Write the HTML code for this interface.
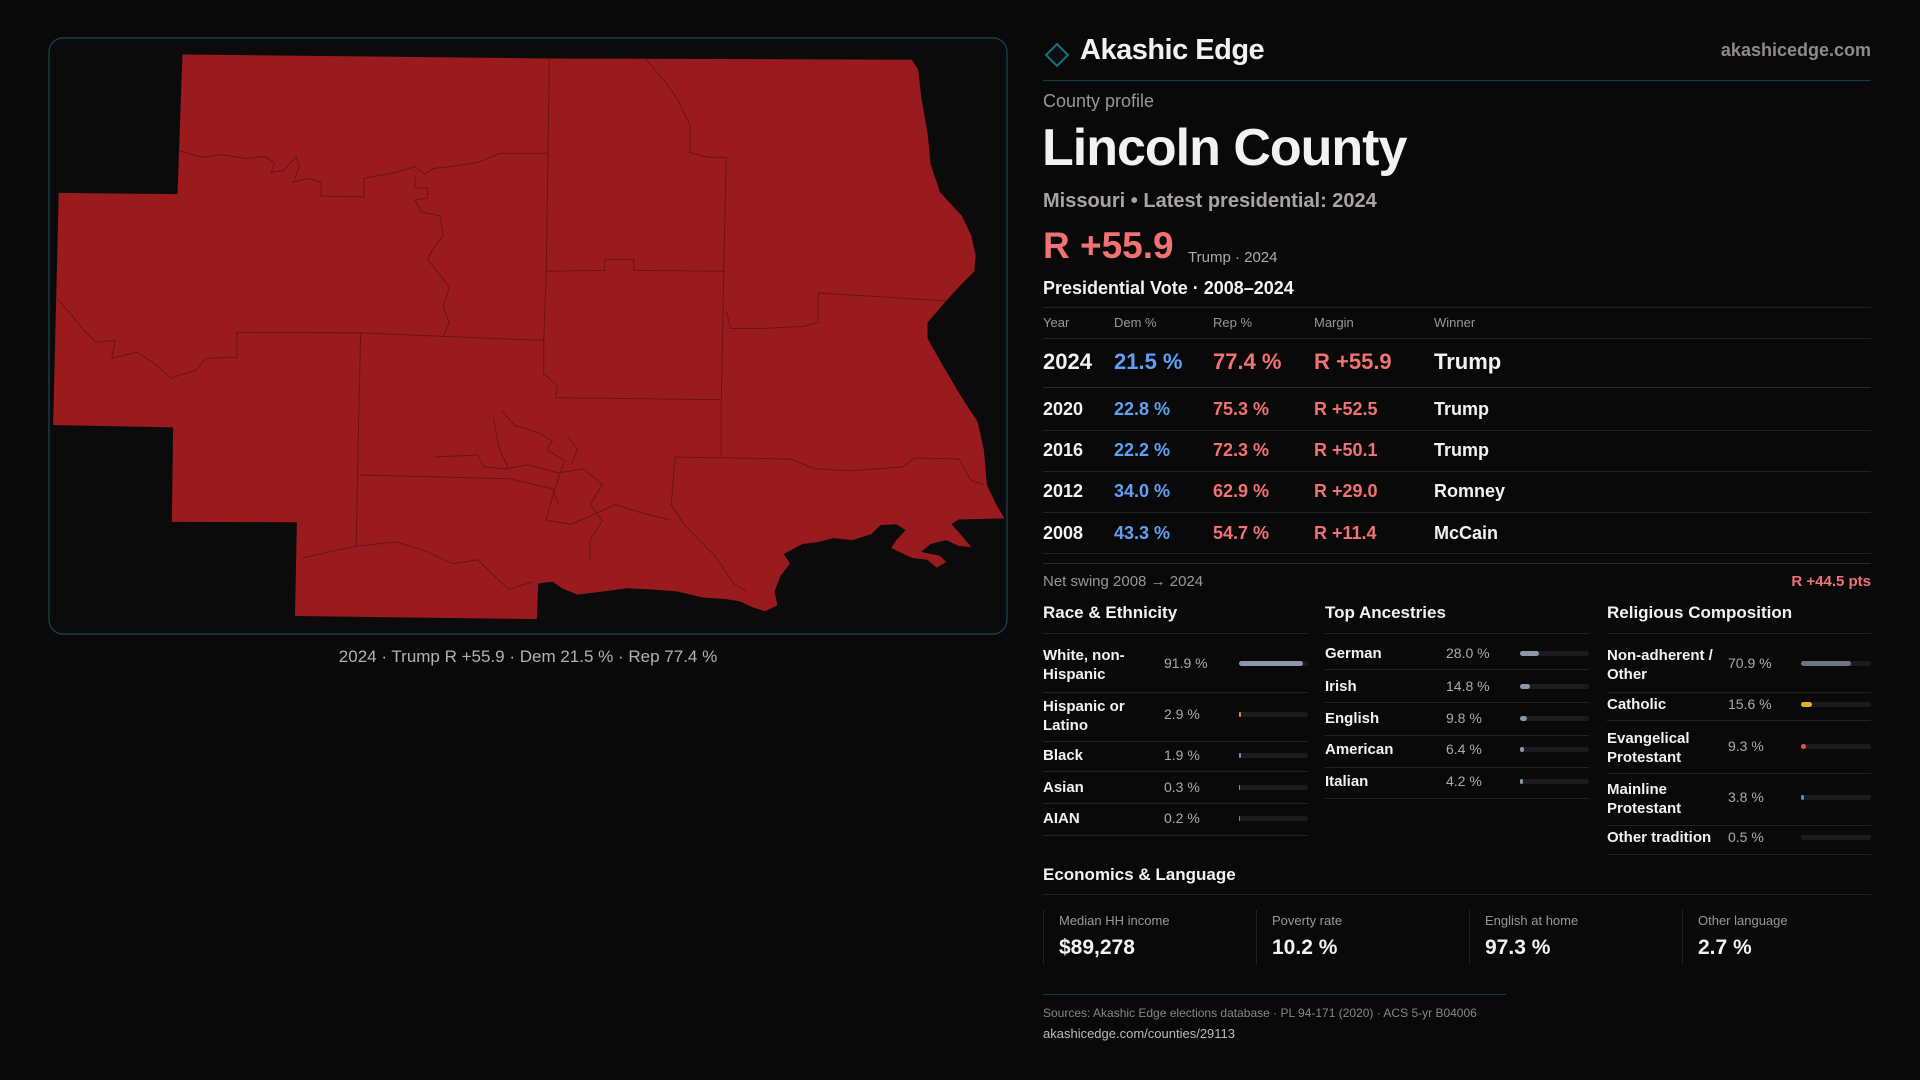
<!DOCTYPE html>
<html><head><meta charset="utf-8"><style>
*{margin:0;padding:0;box-sizing:border-box}
body{width:1920px;height:1080px;background:#0a0909;position:relative;overflow:hidden;font-family:"Liberation Sans",sans-serif;color:#f2f2f2}
.a{position:absolute;white-space:nowrap;line-height:1}
.g{color:#9b9696}
.r{color:#f07272}
.b{color:#5fa0f5}
.ln{position:absolute;height:1px;background:#222}
.bar{position:absolute;height:5px;border-radius:3px;background:#1c1c1e}
.bar i{position:absolute;left:0;top:0;height:5px;border-radius:3px}
</style></head><body>
<svg style="position:absolute;left:0;top:0" width="1920" height="1080" viewBox="0 0 1920 1080">
<rect x="49" y="38" width="958" height="596" rx="14" fill="#0b0b0c" stroke="#1d4650" stroke-width="1.2"/>
<g transform="translate(40,30) scale(0.625,0.3954)">
<polygon fill="#991b1e" points="228,62 815,72 1395,75 1405,100 1410,170 1420,260 1425,340 1440,410 1475,470 1490,520 1497,570 1495,610 1470,650 1450,685 1420,740 1420,780 1445,850 1475,930 1500,990 1510,1060 1515,1150 1530,1200 1543,1235 1470,1238 1458,1250 1470,1270 1490,1308 1470,1305 1450,1290 1425,1300 1410,1320 1440,1330 1450,1345 1435,1360 1420,1340 1395,1335 1362,1310 1370,1290 1385,1265 1370,1250 1345,1252 1330,1275 1300,1290 1270,1285 1245,1295 1220,1300 1190,1325 1200,1350 1185,1380 1175,1420 1180,1455 1160,1470 1140,1460 1120,1445 1100,1440 1060,1435 1020,1420 980,1415 940,1412 900,1420 860,1428 835,1412 820,1395 797,1400 795,1490 408,1482 411,1245 211,1244 213,1005 21,999 30,412 220,415"/>
<g fill="none" stroke="#6a1216" stroke-width="1" vector-effect="non-scaling-stroke">
<path vector-effect="non-scaling-stroke" d="M815,72 L810,610 L806,785 L806,870"/>
<path vector-effect="non-scaling-stroke" d="M222,305 L260,322 290,315 330,325 360,320 375,335 370,360 390,355 410,320 415,345 405,385 430,375 450,385 450,420 518,422 518,375 570,360 600,345 615,365 630,350 660,345 700,335 735,312 812,312"/>
<path vector-effect="non-scaling-stroke" d="M600,368 L600,400 620,400 620,425 600,430 610,460 640,470 645,520 630,550 620,580 640,620 655,650 645,700 655,740 645,775 806,785"/>
<path vector-effect="non-scaling-stroke" d="M968,72 L1000,130 1020,175 1040,240 1040,310 1070,322 1098,322 L1094,610 L1090,935 L1090,1080"/>
<path vector-effect="non-scaling-stroke" d="M810,610 L903,608 903,580 950,580 950,608 1094,610"/>
<path vector-effect="non-scaling-stroke" d="M1098,710 L1105,755 1150,755 1220,750 1245,740 1245,665 1450,685"/>
<path vector-effect="non-scaling-stroke" d="M28,680 L50,720 70,760 90,790 120,785 115,830 155,815 180,840 210,880 250,860 265,830 315,828 315,765 513,766 645,775"/>
<path vector-effect="non-scaling-stroke" d="M513,766 L508,1125 506,1305 L420,1335"/>
<path vector-effect="non-scaling-stroke" d="M806,870 L828,900 825,930 L1090,935"/>
<path vector-effect="non-scaling-stroke" d="M508,1125 L750,1135 820,1160 830,1200"/>
<path vector-effect="non-scaling-stroke" d="M1016,1080 L1010,1200 1030,1250 1080,1330 1110,1400 1130,1420"/>
<path vector-effect="non-scaling-stroke" d="M1016,1080 L1200,1085 1240,1110 1300,1115 1380,1105 1400,1082 1470,1085 1490,1140 1510,1150"/>
<path vector-effect="non-scaling-stroke" d="M506,1305 L570,1295 620,1320 660,1350 700,1340 720,1370 750,1415 790,1395"/>
<path vector-effect="non-scaling-stroke" d="M740,965 L760,1000 800,1020 820,1040 810,1060 840,1090 830,1130 820,1180 810,1240 850,1250 880,1230 920,1200 960,1220 1010,1240"/>
<path vector-effect="non-scaling-stroke" d="M630,1080 L700,1075 710,1105 745,1110 780,1100 830,1120 870,1110 900,1150 880,1200 900,1240 880,1290 880,1340"/>
<path vector-effect="non-scaling-stroke" d="M725,980 L735,1060 750,1110 M845,1030 L860,1060 850,1100"/>
</g></g>
<path d="M1057,44 L1068,55 L1057,66 L1046,55 Z" fill="#0c1214" stroke="#1f6d75" stroke-width="2"/>
</svg>
<div class="a" style="left:0;width:1056px;top:648px;text-align:center;font-size:17px;color:#b5b0b0">2024 · Trump R +55.9 · Dem 21.5 % · Rep 77.4 %</div>

<div class="a" style="left:1080px;top:36px;font-size:29px;font-weight:bold;letter-spacing:-0.5px">Akashic Edge</div>
<div class="a g" style="right:49px;top:41px;font-size:18px;font-weight:bold;color:#8f8a8a">akashicedge.com</div>
<div class="ln" style="left:1043px;width:828px;top:80px;background:#173b42"></div>
<div class="a g" style="left:1043px;top:92px;font-size:18px">County profile</div>
<div class="a" style="left:1042px;top:122px;font-size:52px;font-weight:bold;letter-spacing:-1px">Lincoln County</div>
<div class="a" style="left:1043px;top:191px;font-size:20px;font-weight:bold;color:#a9a4a4">Missouri • Latest presidential: 2024</div>
<div class="a r" style="left:1043px;top:227px;font-size:37px;font-weight:bold">R +55.9</div>
<div class="a" style="left:1188px;top:250px;font-size:15px;color:#aaa">Trump · 2024</div>
<div class="a" style="left:1043px;top:279px;font-size:18px;font-weight:bold">Presidential Vote · 2008–2024</div>
<div class="ln" style="left:1043px;width:828px;top:307px"></div>
<div class="a g" style="left:1043px;top:316px;font-size:13px">Year</div>
<div class="a g" style="left:1114px;top:316px;font-size:13px">Dem %</div>
<div class="a g" style="left:1213px;top:316px;font-size:13px">Rep %</div>
<div class="a g" style="left:1314px;top:316px;font-size:13px">Margin</div>
<div class="a g" style="left:1434px;top:316px;font-size:13px">Winner</div>
<div class="ln" style="left:1043px;width:828px;top:338px"></div>
<div class="a" style="left:1043px;top:351px;font-size:22px;font-weight:bold">2024</div>
<div class="a b" style="left:1114px;top:351px;font-size:22px;font-weight:bold">21.5 %</div>
<div class="a r" style="left:1213px;top:351px;font-size:22px;font-weight:bold">77.4 %</div>
<div class="a r" style="left:1314px;top:351px;font-size:22px;font-weight:bold">R +55.9</div>
<div class="a" style="left:1434px;top:351px;font-size:22px;font-weight:bold">Trump</div>
<div class="ln" style="left:1043px;width:828px;top:387px;background:#2a2a2a"></div>
<div class="a" style="left:1043px;top:400px;font-size:18px;font-weight:bold">2020</div>
<div class="a b" style="left:1114px;top:400px;font-size:18px;font-weight:bold">22.8 %</div>
<div class="a r" style="left:1213px;top:400px;font-size:18px;font-weight:bold">75.3 %</div>
<div class="a r" style="left:1314px;top:400px;font-size:18px;font-weight:bold">R +52.5</div>
<div class="a" style="left:1434px;top:400px;font-size:18px;font-weight:bold">Trump</div>
<div class="ln" style="left:1043px;width:828px;top:430px"></div>
<div class="a" style="left:1043px;top:441px;font-size:18px;font-weight:bold">2016</div>
<div class="a b" style="left:1114px;top:441px;font-size:18px;font-weight:bold">22.2 %</div>
<div class="a r" style="left:1213px;top:441px;font-size:18px;font-weight:bold">72.3 %</div>
<div class="a r" style="left:1314px;top:441px;font-size:18px;font-weight:bold">R +50.1</div>
<div class="a" style="left:1434px;top:441px;font-size:18px;font-weight:bold">Trump</div>
<div class="ln" style="left:1043px;width:828px;top:471px"></div>
<div class="a" style="left:1043px;top:482px;font-size:18px;font-weight:bold">2012</div>
<div class="a b" style="left:1114px;top:482px;font-size:18px;font-weight:bold">34.0 %</div>
<div class="a r" style="left:1213px;top:482px;font-size:18px;font-weight:bold">62.9 %</div>
<div class="a r" style="left:1314px;top:482px;font-size:18px;font-weight:bold">R +29.0</div>
<div class="a" style="left:1434px;top:482px;font-size:18px;font-weight:bold">Romney</div>
<div class="ln" style="left:1043px;width:828px;top:512px"></div>
<div class="a" style="left:1043px;top:524px;font-size:18px;font-weight:bold">2008</div>
<div class="a b" style="left:1114px;top:524px;font-size:18px;font-weight:bold">43.3 %</div>
<div class="a r" style="left:1213px;top:524px;font-size:18px;font-weight:bold">54.7 %</div>
<div class="a r" style="left:1314px;top:524px;font-size:18px;font-weight:bold">R +11.4</div>
<div class="a" style="left:1434px;top:524px;font-size:18px;font-weight:bold">McCain</div>
<div class="ln" style="left:1043px;width:828px;top:553px"></div>
<div class="ln" style="left:1043px;width:828px;top:563px;background:#2a2a2a"></div>
<div class="a g" style="left:1043px;top:574px;font-size:15px">Net swing 2008 → 2024</div>
<div class="a r" style="right:49px;top:574px;font-size:15px;font-weight:bold">R +44.5 pts</div>

<div class="a" style="left:1043px;top:604px;font-size:17px;font-weight:bold">Race &amp; Ethnicity</div>
<div class="a" style="left:1325px;top:604px;font-size:17px;font-weight:bold">Top Ancestries</div>
<div class="a" style="left:1607px;top:604px;font-size:17px;font-weight:bold">Religious Composition</div>
<div class="ln" style="left:1043px;width:265px;top:633px"></div>
<div class="ln" style="left:1325px;width:264px;top:633px"></div>
<div class="ln" style="left:1607px;width:264px;top:633px"></div>

<div class="a" style="left:1043px;top:646px;font-size:15px;font-weight:bold;line-height:19px">White, non-<br>Hispanic</div>
<div class="a g" style="left:1164px;top:656px;font-size:14px;color:#aaa">91.9 %</div>
<div class="bar" style="left:1239px;width:69px;top:661px"><i style="width:64px;background:#8c97a8"></i></div>
<div class="ln" style="left:1043px;width:265px;top:692px"></div>
<div class="a" style="left:1043px;top:697px;font-size:15px;font-weight:bold;line-height:19px">Hispanic or<br>Latino</div>
<div class="a g" style="left:1164px;top:707px;font-size:14px;color:#aaa">2.9 %</div>
<div class="bar" style="left:1239px;width:69px;top:712px"><i style="width:2px;background:#e09020"></i></div>
<div class="ln" style="left:1043px;width:265px;top:741px"></div>
<div class="a" style="left:1043px;top:748px;font-size:15px;font-weight:bold">Black</div>
<div class="a g" style="left:1164px;top:748px;font-size:14px;color:#aaa">1.9 %</div>
<div class="bar" style="left:1239px;width:69px;top:753px"><i style="width:2px;background:#9a7ae0"></i></div>
<div class="ln" style="left:1043px;width:265px;top:771px"></div>
<div class="a" style="left:1043px;top:780px;font-size:15px;font-weight:bold">Asian</div>
<div class="a g" style="left:1164px;top:780px;font-size:14px;color:#aaa">0.3 %</div>
<div class="bar" style="left:1239px;width:69px;top:785px"><i style="width:1px;background:#30c0a0"></i></div>
<div class="ln" style="left:1043px;width:265px;top:803px"></div>
<div class="a" style="left:1043px;top:811px;font-size:15px;font-weight:bold">AIAN</div>
<div class="a g" style="left:1164px;top:811px;font-size:14px;color:#aaa">0.2 %</div>
<div class="bar" style="left:1239px;width:69px;top:816px"><i style="width:1px;background:#d07020"></i></div>
<div class="ln" style="left:1043px;width:265px;top:835px"></div>

<div class="a" style="left:1325px;top:646px;font-size:15px;font-weight:bold">German</div>
<div class="a g" style="left:1446px;top:646px;font-size:14px;color:#aaa">28.0 %</div>
<div class="bar" style="left:1520px;width:69px;top:651px"><i style="width:19px;background:#8c97a8"></i></div>
<div class="ln" style="left:1325px;width:264px;top:669px"></div>
<div class="a" style="left:1325px;top:679px;font-size:15px;font-weight:bold">Irish</div>
<div class="a g" style="left:1446px;top:679px;font-size:14px;color:#aaa">14.8 %</div>
<div class="bar" style="left:1520px;width:69px;top:684px"><i style="width:10px;background:#8c97a8"></i></div>
<div class="ln" style="left:1325px;width:264px;top:702px"></div>
<div class="a" style="left:1325px;top:711px;font-size:15px;font-weight:bold">English</div>
<div class="a g" style="left:1446px;top:711px;font-size:14px;color:#aaa">9.8 %</div>
<div class="bar" style="left:1520px;width:69px;top:716px"><i style="width:7px;background:#8c97a8"></i></div>
<div class="ln" style="left:1325px;width:264px;top:735px"></div>
<div class="a" style="left:1325px;top:742px;font-size:15px;font-weight:bold">American</div>
<div class="a g" style="left:1446px;top:742px;font-size:14px;color:#aaa">6.4 %</div>
<div class="bar" style="left:1520px;width:69px;top:747px"><i style="width:4px;background:#8c97a8"></i></div>
<div class="ln" style="left:1325px;width:264px;top:767px"></div>
<div class="a" style="left:1325px;top:774px;font-size:15px;font-weight:bold">Italian</div>
<div class="a g" style="left:1446px;top:774px;font-size:14px;color:#aaa">4.2 %</div>
<div class="bar" style="left:1520px;width:69px;top:779px"><i style="width:3px;background:#8c97a8"></i></div>
<div class="ln" style="left:1325px;width:264px;top:798px"></div>

<div class="a" style="left:1607px;top:646px;font-size:15px;font-weight:bold;line-height:19px">Non-adherent /<br>Other</div>
<div class="a g" style="left:1728px;top:656px;font-size:14px;color:#aaa">70.9 %</div>
<div class="bar" style="left:1801px;width:70px;top:661px"><i style="width:50px;background:#6e7480"></i></div>
<div class="ln" style="left:1607px;width:264px;top:692px"></div>
<div class="a" style="left:1607px;top:697px;font-size:15px;font-weight:bold">Catholic</div>
<div class="a g" style="left:1728px;top:697px;font-size:14px;color:#aaa">15.6 %</div>
<div class="bar" style="left:1801px;width:70px;top:702px"><i style="width:11px;background:#e0b020"></i></div>
<div class="ln" style="left:1607px;width:264px;top:720px"></div>
<div class="a" style="left:1607px;top:729px;font-size:15px;font-weight:bold;line-height:19px">Evangelical<br>Protestant</div>
<div class="a g" style="left:1728px;top:739px;font-size:14px;color:#aaa">9.3 %</div>
<div class="bar" style="left:1801px;width:70px;top:744px"><i style="width:5px;background:#e05050"></i></div>
<div class="ln" style="left:1607px;width:264px;top:773px"></div>
<div class="a" style="left:1607px;top:780px;font-size:15px;font-weight:bold;line-height:19px">Mainline<br>Protestant</div>
<div class="a g" style="left:1728px;top:790px;font-size:14px;color:#aaa">3.8 %</div>
<div class="bar" style="left:1801px;width:70px;top:795px"><i style="width:3px;background:#4a90e0"></i></div>
<div class="ln" style="left:1607px;width:264px;top:825px"></div>
<div class="a" style="left:1607px;top:830px;font-size:15px;font-weight:bold">Other tradition</div>
<div class="a g" style="left:1728px;top:830px;font-size:14px;color:#aaa">0.5 %</div>
<div class="bar" style="left:1801px;width:70px;top:835px"></div>
<div class="ln" style="left:1607px;width:264px;top:854px"></div>

<div class="a" style="left:1043px;top:866px;font-size:17px;font-weight:bold">Economics &amp; Language</div>
<div class="ln" style="left:1043px;width:828px;top:894px"></div>
<div style="position:absolute;left:1043px;top:910px;width:1px;height:54px;background:#222"></div>
<div style="position:absolute;left:1256px;top:910px;width:1px;height:54px;background:#222"></div>
<div style="position:absolute;left:1469px;top:910px;width:1px;height:54px;background:#222"></div>
<div style="position:absolute;left:1682px;top:910px;width:1px;height:54px;background:#222"></div>
<div class="a g" style="left:1059px;top:914px;font-size:13px">Median HH income</div>
<div class="a g" style="left:1272px;top:914px;font-size:13px">Poverty rate</div>
<div class="a g" style="left:1485px;top:914px;font-size:13px">English at home</div>
<div class="a g" style="left:1698px;top:914px;font-size:13px">Other language</div>
<div class="a" style="left:1059px;top:937px;font-size:21px;font-weight:bold">$89,278</div>
<div class="a" style="left:1272px;top:937px;font-size:21px;font-weight:bold">10.2 %</div>
<div class="a" style="left:1485px;top:937px;font-size:21px;font-weight:bold">97.3 %</div>
<div class="a" style="left:1698px;top:937px;font-size:21px;font-weight:bold">2.7 %</div>

<div class="ln" style="left:1043px;width:463px;top:994px;background:#173b42"></div>
<div class="a g" style="left:1043px;top:1007px;font-size:12px;color:#8a8585">Sources: Akashic Edge elections database · PL 94-171 (2020) · ACS 5-yr B04006</div>
<div class="a" style="left:1043px;top:1027px;font-size:13px;color:#bdb8b8">akashicedge.com/counties/29113</div>
</body></html>
